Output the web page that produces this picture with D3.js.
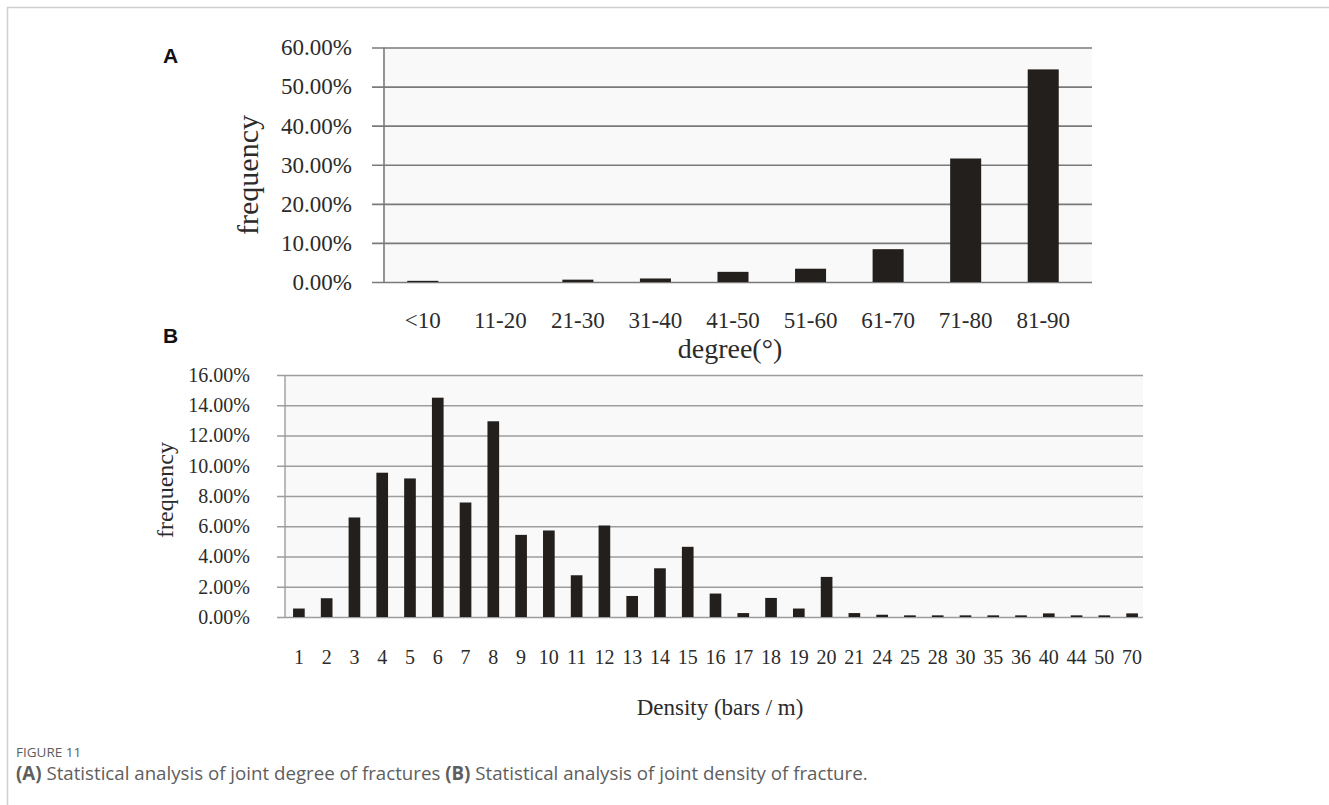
<!DOCTYPE html>
<html lang="en">
<head>
    <meta charset="UTF-8">
    <title>Figure 11</title>
    <style>
        body {
            margin: 0;
            padding: 0;
            background: #fff;
        }

        svg {
            display: block;
        }

        .serif {
            font-family: "Liberation Serif", "Times New Roman", serif;
            fill: #2b2b2b;
        }

        .panel {
            font-family: "Liberation Sans", Arial, sans-serif;
            font-weight: bold;
            font-size: 21px;
            fill: #111;
        }

        .caption {
            font-family: "Open Sans", "Noto Sans", sans-serif;
            fill: #5e5e5e;
        }
    </style>
</head>
<body>
    <svg id="fig" width="1329" height="805"></svg>

    <script src="https://d3js.org/d3.v7.min.js"></script>
    <script>
        // panel A: joint dip angle
        const degreeCats = ['<10', '11-20', '21-30', '31-40', '41-50', '51-60', '61-70', '71-80', '81-90'];
        const degreeFreq = [0.003, 0, 0.006, 0.009, 0.026, 0.034, 0.084, 0.316, 0.544];
        const degreeTicks = [0, 0.1, 0.2, 0.3, 0.4, 0.5, 0.6];

        // panel B: joint density
        const densityCats = ['1', '2', '3', '4', '5', '6', '7', '8', '9', '10', '11', '12', '13', '14', '15', '16',
            '17', '18', '19', '20', '21', '24', '25', '28', '30', '35', '36', '40', '44', '50', '70'];
        const densityFreq = [0.0056, 0.0124, 0.0658, 0.0954, 0.0916, 0.145, 0.0757, 0.1294, 0.0543, 0.0572, 0.0276,
            0.0605, 0.0139, 0.0322, 0.0464, 0.0155, 0.0026, 0.0126, 0.0056, 0.0265, 0.0026, 0.0015, 0.0011, 0.0011,
            0.0011, 0.0011, 0.0011, 0.0024, 0.0011, 0.0011, 0.0024];
        const densityTicks = [0, 0.02, 0.04, 0.06, 0.08, 0.10, 0.12, 0.14, 0.16];

        const barColor = '#231f1c';
        const pct = d3.format('.2%');

        const svg = d3.select('#fig');

        // frame of the figure box
        svg.append('path')
            .attr('d', 'M7.5,805 V7.5 H1329')
            .attr('fill', 'none')
            .attr('stroke', '#cfcfcf')
            .attr('stroke-width', 1.5);

        function drawPanel(opt) {
            const g = svg.append('g');
            const x = d3.scaleBand()
                .domain(opt.cats)
                .range([opt.left, opt.right])
                .paddingInner(opt.padIn)
                .paddingOuter(opt.padOut);
            const y = d3.scaleLinear()
                .domain([0, opt.ticks[opt.ticks.length - 1]])
                .range([opt.bottom, opt.top]);

            // plot background
            g.append('rect')
                .attr('x', opt.left)
                .attr('y', opt.top)
                .attr('width', opt.gridRight - opt.left)
                .attr('height', opt.bottom - opt.top)
                .attr('fill', '#f9f9f9');

            // grid lines + tick labels through a left axis
            const yAxis = d3.axisLeft(y)
                .tickValues(opt.ticks)
                .tickFormat(pct)
                .tickSize(-(opt.gridRight - opt.tickStart))
                .tickPadding(0);
            const ga = g.append('g')
                .attr('transform', `translate(${opt.tickStart},0)`)
                .call(yAxis);
            ga.select('.domain').remove();
            ga.selectAll('.tick line')
                .attr('stroke', opt.gridColor)
                .attr('stroke-width', opt.gridWidth);
            ga.selectAll('.tick text')
                .attr('class', 'serif')
                .attr('font-size', opt.tickFont)
                .attr('x', opt.labelRight - opt.tickStart)
                .attr('fill', '#2b2b2b');

            // vertical axis line
            g.append('line')
                .attr('x1', opt.left).attr('x2', opt.left)
                .attr('y1', opt.top).attr('y2', opt.bottom)
                .attr('stroke', opt.gridColor)
                .attr('stroke-width', opt.gridWidth);

            // bars
            g.selectAll('rect.bar')
                .data(opt.values)
                .join('rect')
                .attr('class', 'bar')
                .attr('x', (d, i) => x(opt.cats[i]))
                .attr('y', d => y(d))
                .attr('width', x.bandwidth())
                .attr('height', d => opt.bottom - y(d))
                .attr('fill', barColor);

            // category labels
            const xAxis = d3.axisBottom(x).tickSize(0).tickPadding(0);
            const gx = g.append('g')
                .attr('transform', `translate(0,${opt.catBase})`)
                .call(xAxis);
            gx.select('.domain').remove();
            gx.selectAll('.tick text')
                .attr('class', 'serif')
                .attr('font-size', opt.catFont)
                .attr('dy', 0)
                .attr('y', 0)
                .attr('fill', '#2b2b2b');

            // axis titles
            g.append('text')
                .attr('class', 'serif')
                .attr('font-size', opt.yTitleFont)
                .attr('text-anchor', 'middle')
                .attr('transform', `translate(${opt.yTitleX},${opt.yTitleY}) rotate(-90)`)
                .text('frequency');
            g.append('text')
                .attr('class', 'serif')
                .attr('font-size', opt.xTitleFont)
                .attr('text-anchor', 'middle')
                .attr('x', opt.xTitleX)
                .attr('y', opt.xTitleY)
                .text(opt.xTitle);

            g.append('text')
                .attr('class', 'panel')
                .attr('x', 163)
                .attr('y', opt.panelY)
                .text(opt.panel);
        }

        drawPanel({
            panel: 'A', panelY: 63,
            cats: degreeCats, values: degreeFreq, ticks: degreeTicks,
            left: 384, right: 1082, gridRight: 1092, tickStart: 372,
            top: 47.5, bottom: 282,
            padIn: 0.6, padOut: 0.3,
            gridColor: '#7a7a7a', gridWidth: 1.6,
            tickFont: 23, labelRight: 352,
            catFont: 23, catBase: 328,
            yTitleFont: 30, yTitleX: 258, yTitleY: 175,
            xTitle: 'degree(°)', xTitleFont: 28, xTitleX: 730, xTitleY: 358
        });

        drawPanel({
            panel: 'B', panelY: 343,
            cats: densityCats, values: densityFreq, ticks: densityTicks,
            left: 285, right: 1146, gridRight: 1143, tickStart: 277,
            top: 375, bottom: 617,
            padIn: 0.58, padOut: 0.29,
            gridColor: '#9d9d9d', gridWidth: 1.4,
            tickFont: 20, labelRight: 250,
            catFont: 20, catBase: 664,
            yTitleFont: 24, yTitleX: 173, yTitleY: 490,
            xTitle: 'Density (bars / m)', xTitleFont: 23, xTitleX: 720, xTitleY: 715
        });

        // caption
        svg.append('text')
            .attr('class', 'caption')
            .attr('x', 16)
            .attr('y', 757)
            .attr('font-size', 13.5)
            .text('FIGURE 11');

        const cap = svg.append('text')
            .attr('class', 'caption')
            .attr('x', 16)
            .attr('y', 780)
            .attr('font-size', 18.7);
        cap.append('tspan').attr('font-weight', 'bold').text('(A)');
        cap.append('tspan').text(' Statistical analysis of joint degree of fractures ');
        cap.append('tspan').attr('font-weight', 'bold').text('(B)');
        cap.append('tspan').text(' Statistical analysis of joint density of fracture.');
    </script>
</body>
</html>
